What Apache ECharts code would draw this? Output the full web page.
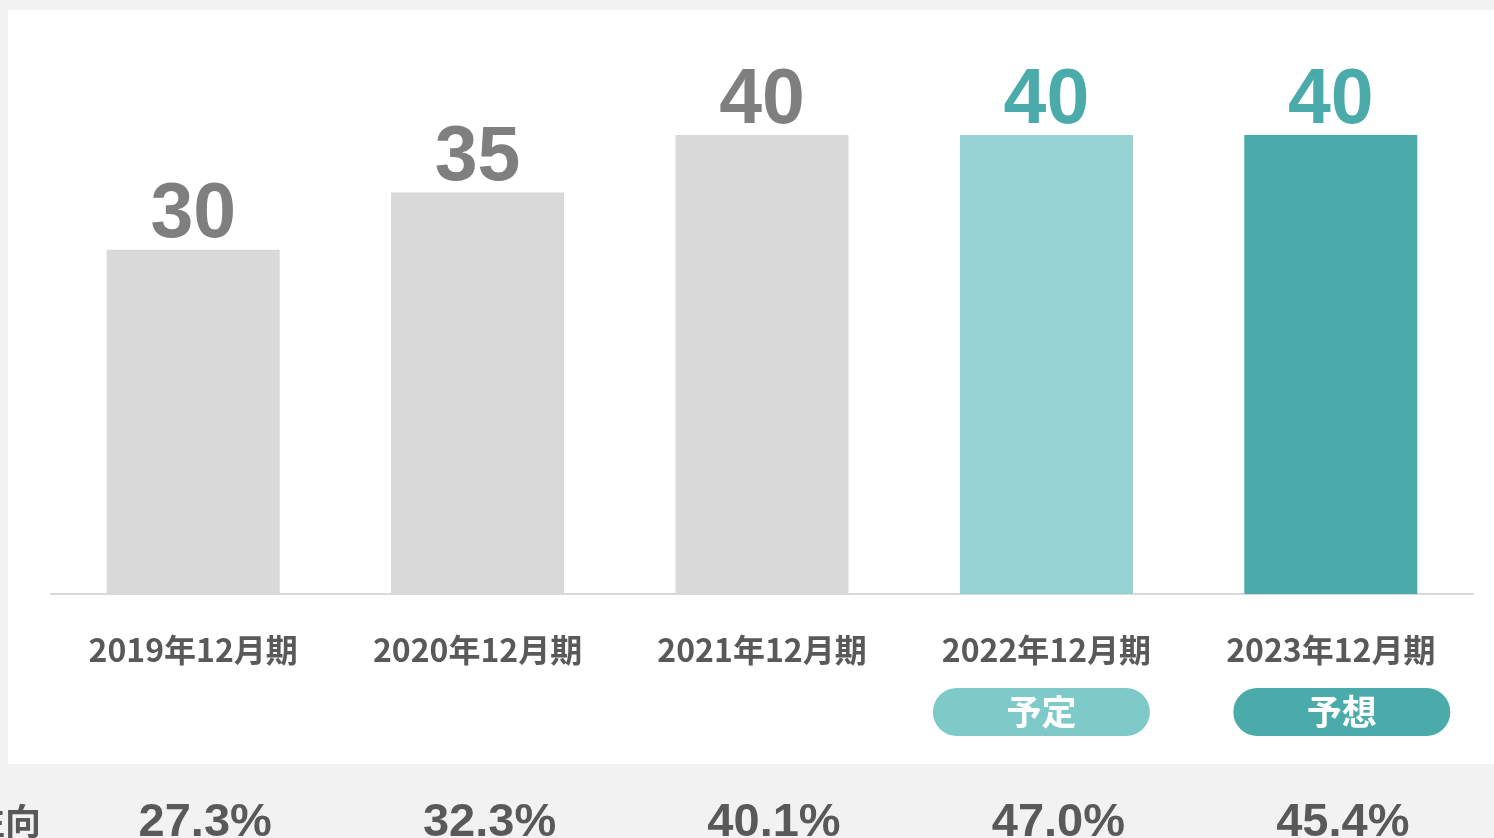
<!DOCTYPE html>
<html>
<head>
<meta charset="utf-8">
<script src="https://cdn.jsdelivr.net/npm/echarts@6/dist/echarts.min.js"></script>
<style>
    html, body { margin: 0; padding: 0; background: #f2f2f2; overflow: hidden; }
    #main { width: 1494px; height: 838px; }
</style>
</head>
<body>
<div id="main"></div>
<script>
// 決算期
let categories = ['2019年12月期', '2020年12月期', '2021年12月期', '2022年12月期', '2023年12月期'];
// 1株当たり配当金
let dividends = [30, 35, 40, 40, 40];
// 配当性向
let payoutRatio = ['27.3%', '32.3%', '40.1%', '47.0%', '45.4%'];
// 予定・予想タグ
let tags = ['', '', '', '予定', '予想'];

let barColors = ['#d9d9d9', '#d9d9d9', '#d9d9d9', '#96d2d1', '#4aabaa'];
let labelColors = ['#7f7f7f', '#7f7f7f', '#7f7f7f', '#4aabaa', '#4aabaa'];

let myChart = echarts.init(document.getElementById('main'));

let barData = dividends.map(function (v, i) {
    return {
        value: v,
        itemStyle: { color: barColors[i] },
        label: { color: labelColors[i] }
    };
});

let pill = {
    color: '#ffffff',
    fontSize: 35,
    fontWeight: 'bold',
    fontFamily: 'Noto Sans CJK JP',
    width: 217,
    height: 48,
    lineHeight: 48,
    align: 'center',
    borderRadius: 24
};

// タグの行（ピルの左右に透明な余白を入れて位置を微調整）
function tagLine(tag) {
    if (tag === '予定') {
        return '{tagPlan|' + tag + '}{sp10| }';
    }
    return '{sp22| }{tagForecast|' + tag + '}';
}

let option = {
    backgroundColor: '#f2f2f2',
    animation: false,
    graphic: [
        {
            type: 'rect',
            z: -10,
            shape: { x: 8, y: 10, width: 1500, height: 754 },
            style: { fill: '#ffffff' }
        },
        {
            type: 'text',
            right: 1453,
            top: 803,
            style: {
                text: '配当性向',
                fill: '#595959',
                font: 'bold 36px "Noto Sans CJK JP"'
            }
        }
    ],
    grid: {
        left: 51,
        right: 21,
        top: 135,
        bottom: 244,
        outerBoundsMode: 'none'
    },
    xAxis: [
        {
            type: 'category',
            data: categories,
            axisLine: { lineStyle: { color: '#d9d9d9', width: 2 } },
            axisTick: { show: false },
            axisLabel: {
                interval: 0,
                margin: 36,
                formatter: function (value, idx) {
                    let s = '{cat|' + value + '}';
                    if (tags[idx]) {
                        s += '\n{gap|}\n' + tagLine(tags[idx]);
                    }
                    return s;
                },
                rich: {
                    cat: {
                        color: '#595959',
                        fontSize: 32,
                        fontWeight: 'bold',
                        fontFamily: 'Noto Sans CJK JP',
                        lineHeight: 40
                    },
                    gap: { lineHeight: 18, height: 18 },
                    sp10: { width: 10, height: 48, lineHeight: 48 },
                    sp22: { width: 22, height: 48, lineHeight: 48 },
                    tagPlan: Object.assign({}, pill, { backgroundColor: '#7ecac8' }),
                    tagForecast: Object.assign({}, pill, { backgroundColor: '#4aabaa' })
                }
            }
        },
        {
            type: 'category',
            data: payoutRatio,
            position: 'bottom',
            axisLine: { show: false },
            axisTick: { show: false },
            axisLabel: {
                interval: 0,
                margin: 206,
                padding: [0, 0, 0, 24],
                color: '#595959',
                fontSize: 47,
                fontWeight: 'bold',
                fontFamily: 'Liberation Sans',
                lineHeight: 47
            }
        }
    ],
    yAxis: {
        type: 'value',
        min: 0,
        max: 40,
        show: false,
        splitLine: { show: false }
    },
    series: [{
        type: 'bar',
        data: barData,
        barWidth: 173,
        label: {
            show: true,
            position: 'top',
            distance: -5,
            fontSize: 77,
            fontWeight: 'bold',
            fontFamily: 'Liberation Sans'
        }
    }]
};

myChart.setOption(option);
</script>
</body>
</html>
